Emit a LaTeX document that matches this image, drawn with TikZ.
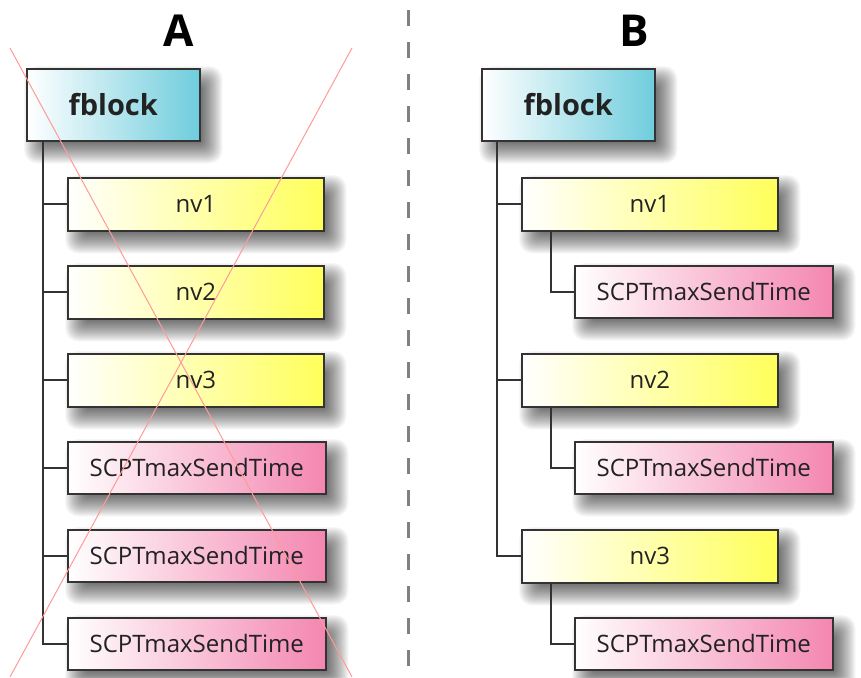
\documentclass[tikz,border=0pt]{standalone}
\usepackage{fontspec}
\setmainfont{Open Sans}
\usetikzlibrary{calc}
\definecolor{fbcol}{HTML}{6FCDDD}
\definecolor{nvcol}{HTML}{FFFF5A}
\definecolor{spcol}{HTML}{F486B0}
\definecolor{edgecol}{HTML}{333333}
\definecolor{txtcol}{HTML}{222222}
\definecolor{sepcol}{HTML}{808080}
\definecolor{strikecol}{HTML}{FF9A9A}
\pgfdeclarelayer{paper}
\pgfdeclarelayer{shade}
\pgfsetlayers{paper,shade,main}
% soft drop shadow behind a named box: stacked translucent rectangles,
% offset down and to the right
\newcommand\softshadow[1]{%
  \begin{pgfonlayer}{shade}
    \foreach \d in {0,...,24}{
      \pgfmathsetmacro\r{22-\d}
      \pgfmathsetmacro\s{\d-2}
      \fill[black, opacity=0.03, rounded corners=0.5*\d pt+1pt]
        ($(#1.north west)+(\r pt,-\r pt)$) rectangle
        ($(#1.south east)+(\s pt,-\s pt)$);
    }
  \end{pgfonlayer}}
\begin{document}
\begin{tikzpicture}[x=1pt,y=-1pt,
  box/.style={draw=edgecol, line width=1.5pt, inner sep=0pt, anchor=north west,
    text=txtcol},
  fbbox/.style={box, left color=white, right color=fbcol,
    minimum width=173pt, minimum height=72pt,
    font=\bfseries\fontsize{29}{34}\selectfont},
  nvbox/.style={box, left color=white, right color=nvcol,
    minimum width=256pt, minimum height=53pt,
    font=\fontsize{24}{28}\selectfont},
  spbox/.style={box, left color=white, right color=spcol,
    minimum width=258pt, minimum height=52pt,
    font=\fontsize{24}{28}\selectfont},
  link/.style={draw=edgecol, line width=2pt},
  title/.style={font=\bfseries\fontsize{44}{48}\selectfont, text=black},
]
\useasboundingbox (0,0) rectangle (861,677);
\begin{pgfonlayer}{paper}
  \fill[white] (0,0) rectangle (861,677);
\end{pgfonlayer}

% headings
\node[title] (tA) at (179,31) {A};
\node[title] (tB) at (634,31) {B};

% separator
\coordinate (sepTop) at (408,10);
\coordinate (sepBot) at (408,677);
\draw[sepcol, line width=3pt, dash pattern=on 16pt off 16pt] (sepTop) -- (sepBot);

% ---- variant A: flat list ----
\node[fbbox] (fA) at (26,68) {fblock};
\node[nvbox] (a1) at (67,177) {nv1};
\node[nvbox] (a2) at (67,265) {nv2};
\node[nvbox] (a3) at (67,353) {nv3};
\node[spbox] (a4) at (67,441) {SCPTmaxSendTime};
\node[spbox] (a5) at (67,529) {SCPTmaxSendTime};
\node[spbox] (a6) at (67,617) {SCPTmaxSendTime};

\coordinate (tkA) at ($(fA.south west)+(17,0)$);
\draw[link] (tkA) |- (a6.west);
\foreach \n in {a1,a2,a3,a4,a5}
  \draw[link] (tkA |- \n.west) -- (\n.west);

% ---- variant B: nested ----
\node[fbbox] (fB) at (481,68) {fblock};
\node[nvbox] (b1) at (521,177) {nv1};
\node[spbox] (b1s) at (574,265) {SCPTmaxSendTime};
\node[nvbox] (b2) at (521,353) {nv2};
\node[spbox] (b2s) at (574,441) {SCPTmaxSendTime};
\node[nvbox] (b3) at (521,529) {nv3};
\node[spbox] (b3s) at (574,617) {SCPTmaxSendTime};

\coordinate (tkB) at ($(fB.south west)+(16,0)$);
\draw[link] (tkB) |- (b3.west);
\draw[link] (tkB |- b1.west) -- (b1.west);
\draw[link] (tkB |- b2.west) -- (b2.west);
\foreach \p/\c in {b1/b1s,b2/b2s,b3/b3s}
  \draw[link] ($(\p.south west)+(30,0)$) |- (\c.west);

% shadows for all boxes
\foreach \n in {fA,a1,a2,a3,a4,a5,a6,fB,b1,b1s,b2,b2s,b3,b3s}{
  \softshadow{\n}
}

% strike-through over variant A
\coordinate (xa1) at (10,48);
\coordinate (xa2) at (352,677);
\coordinate (xb1) at (352,48);
\coordinate (xb2) at (10,677);
\draw[strikecol, line width=1pt] (xa1) -- (xa2);
\draw[strikecol, line width=1pt] (xb1) -- (xb2);
\end{tikzpicture}
\end{document}
